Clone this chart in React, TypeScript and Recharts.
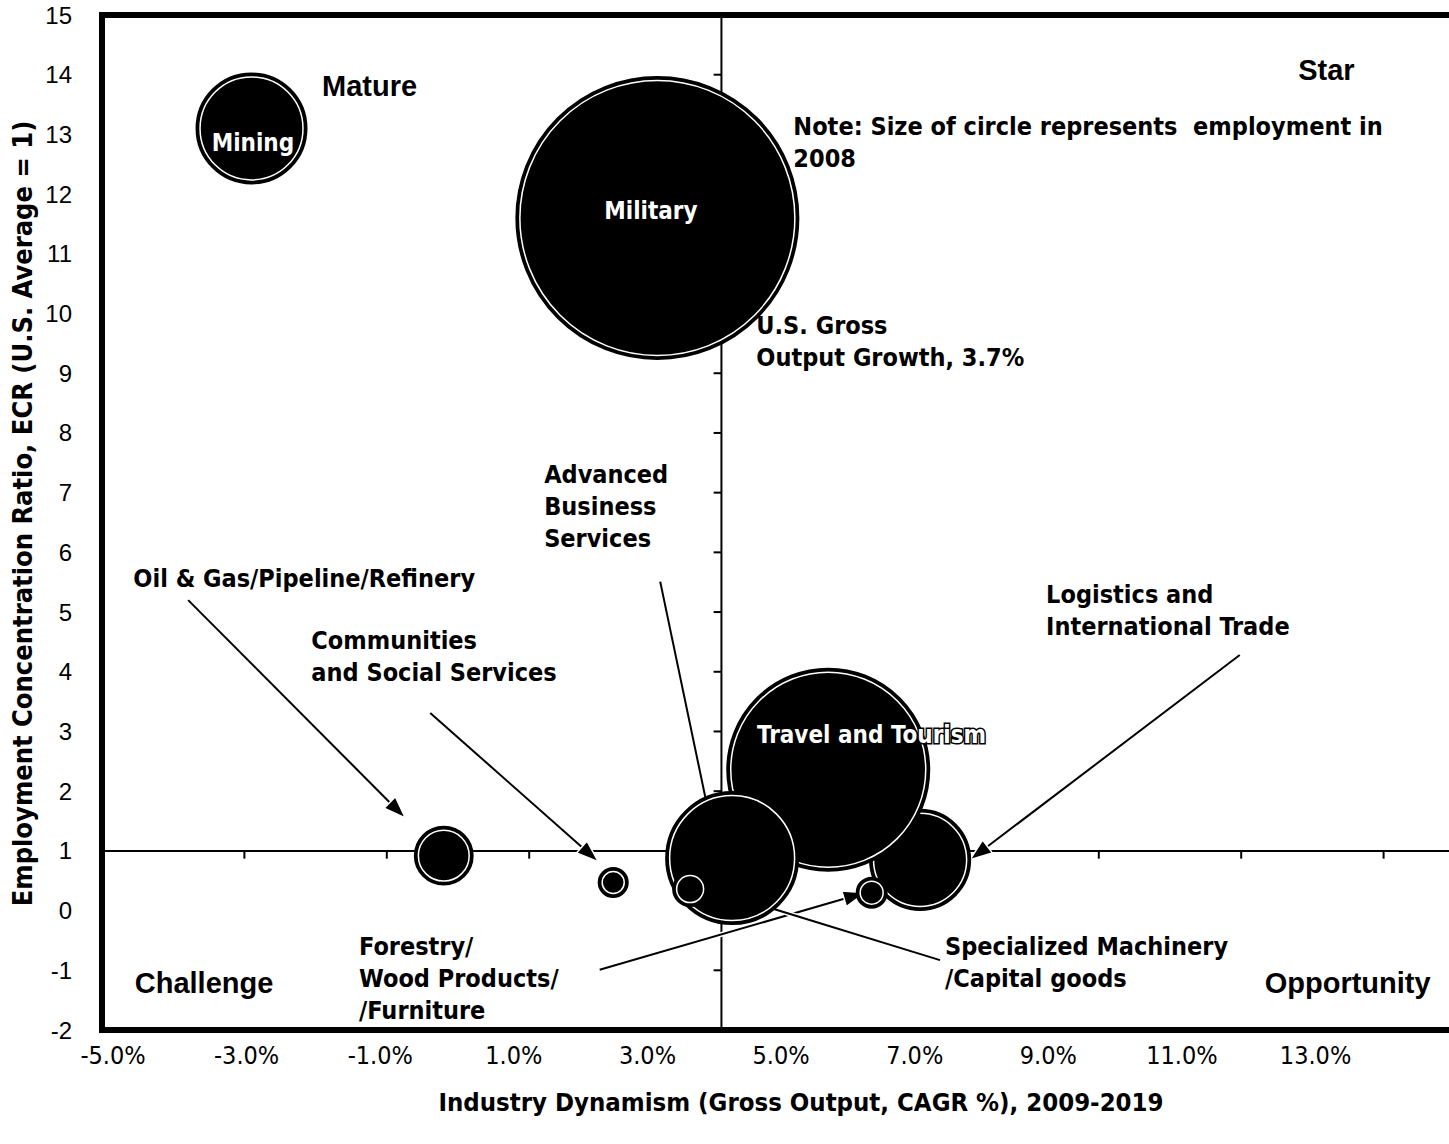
import React from 'react';
import {
  ReferenceArea,
  ReferenceDot,
  ReferenceLine,
  Scatter,
  ScatterChart,
  XAxis,
  YAxis,
  ZAxis,
} from 'recharts';

// bubbles, in drawing order (later ones sit on top)
const industries = [
  'Mining',
  'Military',
  'Oil & Gas/Pipeline/Refinery',
  'Communities and Social Services',
  'Logistics and International Trade',
  'Travel and Tourism',
  'Advanced Business Services',
  'Forestry/Wood Products/Furniture',
  'Specialized Machinery/Capital goods',
];
const outputGrowth = [-2.9, 2.8, -0.2, 2.18, 6.49, 5.2, 3.85, 5.81, 3.26];
const concentration = [13.1, 11.6, 0.92, 0.47, 0.85, 2.36, 0.88, 0.3, 0.36];
const employment = [15.2, 100, 4.2, 1.06, 12.6, 51.3, 21.9, 1.13, 1.45];

const xTicks = [-5, -3, -1, 1, 3, 5, 7, 9, 11, 13, 15];
const xLabelTicks = [-5, -3, -1, 1, 3, 5, 7, 9, 11, 13];
const yTicks = [-2, -1, 0, 1, 2, 3, 4, 5, 6, 7, 8, 9, 10, 11, 12, 13, 14, 15];
const usGrowth = 3.7;
const usAverage = 1;

const arrows = [
  { from: [-3.79, 5.2], to: [-0.74, 1.55] },
  { from: [-0.39, 3.31], to: [1.97, 0.82] },
  { from: [2.84, 5.51], to: [3.54, 1.52] },
  { from: [10.98, 4.28], to: [7.19, 0.85] },
  { from: [1.99, -0.99], to: [5.72, 0.3] },
  { from: [6.77, -0.83], to: [3.47, 0.38] },
];

const notes = [
  { x: -1.91, y: 13.81, kind: 'quadrant', lines: ['Mature'] },
  { x: 11.8, y: 14.08, kind: 'quadrant', lines: ['Star'] },
  { x: -4.54, y: -1.21, kind: 'quadrant', lines: ['Challenge'] },
  { x: 11.33, y: -1.21, kind: 'quadrant', lines: ['Opportunity'] },
  { x: 4.71, y: 13.14, kind: 'bold', lines: ['Note: Size of circle represents  employment in', '2008'] },
  { x: 4.19, y: 9.81, kind: 'bold', lines: ['U.S. Gross', 'Output Growth, 3.7%'] },
  { x: 1.21, y: 7.31, kind: 'bold', lines: ['Advanced', 'Business', 'Services'] },
  { x: -4.56, y: 5.57, kind: 'bold', lines: ['Oil & Gas/Pipeline/Refinery'] },
  { x: -2.06, y: 4.52, kind: 'bold', lines: ['Communities', 'and Social Services'] },
  { x: 8.26, y: 5.29, kind: 'bold', lines: ['Logistics and', 'International Trade'] },
  { x: -1.39, y: -0.59, kind: 'bold', lines: ['Forestry/', 'Wood Products/', '/Furniture'] },
  { x: 6.84, y: -0.59, kind: 'bold', lines: ['Specialized Machinery', '/Capital goods'] },
  { x: -2.88, y: 12.86, kind: 'inside', lines: ['Mining'] },
  { x: 2.71, y: 11.72, kind: 'inside', lines: ['Military'] },
  { x: 4.2, y: 2.94, kind: 'insideStart', lines: ['Travel and Tourism'] },
];

const bubbles = industries.map((name, i) => ({
  name,
  x: outputGrowth[i],
  y: concentration[i],
  employment: employment[i],
}));

// the printed tick labels sit on their own, slightly tighter scale
const labelPoints = xLabelTicks.map((v) => ({ x: v, y: usAverage }));

const NARROW = "'Liberation Sans Narrow', 'Arial Narrow', 'DejaVu Sans Condensed', sans-serif";
const WIDE = "'Liberation Sans', Arial, sans-serif";
const MAX_R = 141;

function Bubble(props: any) {
  const { cx, cy } = props;
  const r = props.width ? props.width / 2 : Math.sqrt(props.size / Math.PI);
  return (
    <g>
      <circle cx={cx} cy={cy} r={r} fill="#000" stroke="#000" strokeWidth={2} />
      <circle cx={cx} cy={cy} r={Math.max(r - 3.5, 1)} fill="none" stroke="#fff" strokeWidth={1.5} />
    </g>
  );
}

function Nothing() {
  return <g />;
}

function Arrow(props: any) {
  const { x1, y1, x2, y2 } = props;
  const a = Math.atan2(y2 - y1, x2 - x1);
  const len = 22;
  const half = 8;
  const bx = x2 - len * Math.cos(a);
  const by = y2 - len * Math.sin(a);
  const px = -Math.sin(a) * half;
  const py = Math.cos(a) * half;
  const head = `${x2},${y2} ${bx + px},${by + py} ${bx - px},${by - py}`;
  return (
    <g>
      <line x1={x1} y1={y1} x2={bx} y2={by} stroke="#fff" strokeWidth={5} />
      <line x1={x1} y1={y1} x2={bx} y2={by} stroke="#000" strokeWidth={2} />
      <polygon points={head} fill="#000" stroke="#fff" strokeWidth={1.5} />
    </g>
  );
}

function noteText(note: (typeof notes)[number]) {
  return (props: any) => {
    const { cx, cy } = props;
    let style: React.CSSProperties = { fontFamily: NARROW, fontWeight: 700, fontSize: 25 };
    let anchor: 'start' | 'middle' = 'start';
    let extra: any = {};
    if (note.kind === 'quadrant') style = { fontFamily: WIDE, fontWeight: 700, fontSize: 29 };
    if (note.kind === 'inside' || note.kind === 'insideStart') {
      style = { fontFamily: NARROW, fontWeight: 700, fontSize: 24 };
      extra = { fill: '#fff', stroke: '#000', strokeWidth: 3, paintOrder: 'stroke' };
      anchor = note.kind === 'inside' ? 'middle' : 'start';
    }
    return (
      <text
        x={cx}
        y={cy}
        textAnchor={anchor}
        fill="#000"
        style={{ ...style, whiteSpace: 'pre' }}
        {...extra}
      >
        {note.lines.map((line, i) => (
          <tspan key={i} x={cx} dy={i === 0 ? '0.35em' : 32}>
            {line}
          </tspan>
        ))}
      </text>
    );
  };
}

export default function App() {
  return (
    <div
      style={{
        position: 'absolute',
        left: 0,
        top: 0,
        width: 1449,
        height: 1144,
        overflow: 'hidden',
        background: '#fff',
      }}
    >
      <ScatterChart width={1540} height={1144} margin={{ top: 15, right: 14, bottom: 0, left: 7 }}>
        <XAxis
          xAxisId="labels"
          type="number"
          dataKey="x"
          domain={[-5.165, 16.15]}
          allowDataOverflow
          ticks={xLabelTicks}
          interval={0}
          tickFormatter={(v: number) => `${v.toFixed(1)}%`}
          axisLine={false}
          tickLine={false}
          tickMargin={10}
          height={114}
          tick={{ fontFamily: NARROW, fontSize: 25, fill: '#000' }}
          label={{
            value: 'Industry Dynamism (Gross  Output, CAGR %), 2009-2019',
            position: 'insideBottom',
            offset: 33,
            dx: -13,
            style: { fontFamily: NARROW, fontWeight: 700, fontSize: 25.5, fill: '#000', whiteSpace: 'pre' },
          }}
        />
        <XAxis type="number" dataKey="x" domain={[-5, 15]} allowDataOverflow hide height={0} />
        <YAxis
          type="number"
          dataKey="y"
          domain={[-2, 15]}
          ticks={yTicks}
          interval={0}
          axisLine={false}
          tickLine={false}
          tickMargin={24}
          width={95}
          tick={{ fontFamily: WIDE, fontSize: 24, fill: '#000' }}
          label={{
            value: 'Employment Concentration Ratio, ECR (U.S. Average = 1)',
            angle: -90,
            position: 'center',
            dx: -32,
            dy: -9,
            style: { fontFamily: NARROW, fontWeight: 700, fontSize: 27, fill: '#000' },
          }}
        />
        <ZAxis type="number" dataKey="employment" domain={[0, 100]} range={[0, Math.PI * MAX_R * MAX_R]} />

        <ReferenceArea x1={-5} x2={15} y1={-2} y2={15} fill="none" stroke="#000" strokeWidth={6} />
        <ReferenceLine y={usAverage} stroke="#000" strokeWidth={2} />
        <ReferenceLine x={usGrowth} stroke="#000" strokeWidth={2} />
        {xTicks.map((t) => (
          <ReferenceLine
            key={`xt${t}`}
            segment={[
              { x: t, y: usAverage },
              { x: t, y: usAverage - 0.13 },
            ]}
            stroke="#000"
            strokeWidth={2}
          />
        ))}
        {yTicks.map((t) => (
          <ReferenceLine
            key={`yt${t}`}
            segment={[
              { x: usGrowth - 0.11, y: t },
              { x: usGrowth, y: t },
            ]}
            stroke="#000"
            strokeWidth={2}
          />
        ))}

        <Scatter xAxisId="labels" data={labelPoints} shape={Nothing} isAnimationActive={false} />
        <Scatter data={bubbles} shape={Bubble} isAnimationActive={false} />

        {arrows.map((a, i) => (
          <ReferenceLine
            key={`ar${i}`}
            segment={[
              { x: a.from[0], y: a.from[1] },
              { x: a.to[0], y: a.to[1] },
            ]}
            shape={Arrow}
          />
        ))}
        {notes.map((n, i) => (
          <ReferenceDot key={`n${i}`} x={n.x} y={n.y} r={0} shape={noteText(n)} />
        ))}
      </ScatterChart>
    </div>
  );
}
